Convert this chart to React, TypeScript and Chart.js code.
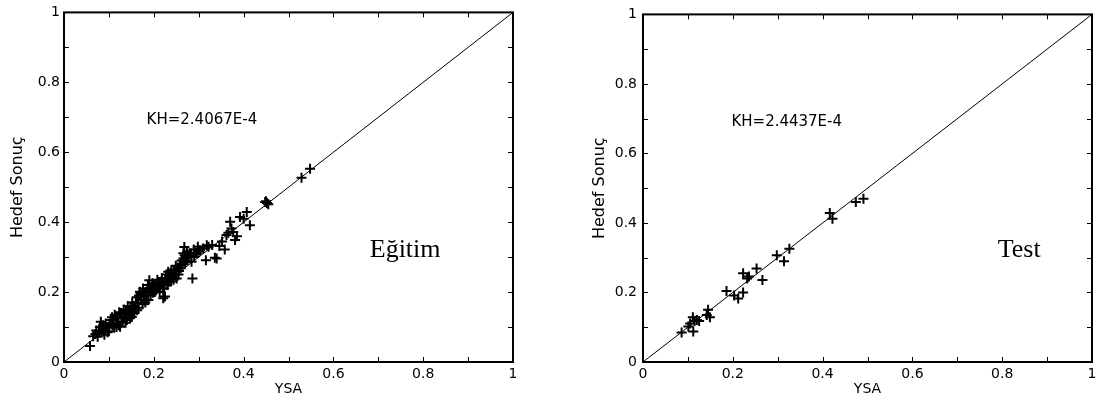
import { useEffect, useRef } from "react";
import { Chart, registerables } from "chart.js";

Chart.register(...registerables);

// Training set: network output (YSA) vs. target (Hedef Sonuç)
const egitimYSA = [
  0.058, 0.065, 0.07, 0.075, 0.078, 0.082, 0.085, 0.088, 0.09, 0.092, 0.095, 0.099, 0.1, 0.102,
  0.105, 0.108, 0.11, 0.112, 0.115, 0.118, 0.12, 0.122, 0.125, 0.127, 0.128, 0.13, 0.132, 0.135,
  0.138, 0.14, 0.143, 0.145, 0.148, 0.151, 0.153,
  0.155, 0.158, 0.16, 0.163, 0.165, 0.167, 0.169, 0.172, 0.175, 0.177, 0.18, 0.183, 0.184, 0.186,
  0.188, 0.19, 0.192, 0.195, 0.198, 0.2,
  0.203, 0.205, 0.207, 0.21, 0.212, 0.214, 0.217, 0.22, 0.221, 0.224, 0.225, 0.227, 0.229, 0.23,
  0.232, 0.234, 0.236, 0.238, 0.24, 0.242, 0.245, 0.247, 0.25, 0.251, 0.253,
  0.256, 0.258, 0.26, 0.263, 0.266, 0.266, 0.268, 0.27, 0.272, 0.275, 0.278, 0.28, 0.284, 0.286,
  0.29, 0.294, 0.296, 0.3, 0.303,
  0.31, 0.316, 0.318, 0.322, 0.33, 0.336, 0.34, 0.346, 0.352, 0.358, 0.362, 0.366, 0.37, 0.373,
  0.377, 0.381, 0.385, 0.392, 0.4, 0.407, 0.414,
  0.448, 0.45, 0.452, 0.455, 0.529, 0.548,
  0.072, 0.08, 0.087, 0.093, 0.097, 0.107, 0.113, 0.117, 0.123, 0.133, 0.137, 0.142, 0.147, 0.152,
  0.157, 0.162, 0.166, 0.171, 0.176, 0.181, 0.187, 0.193, 0.197, 0.202, 0.208, 0.213, 0.218, 0.223,
  0.228, 0.233, 0.239, 0.244, 0.249, 0.255, 0.262, 0.269, 0.274, 0.283, 0.289, 0.298,
];
const egitimHedef = [
  0.046, 0.074, 0.08, 0.072, 0.085, 0.115, 0.09, 0.087, 0.078, 0.095, 0.1, 0.101, 0.088, 0.11,
  0.12, 0.105, 0.12, 0.098, 0.13, 0.112, 0.125, 0.105, 0.101, 0.14, 0.125, 0.115, 0.139, 0.128,
  0.145, 0.12, 0.149, 0.135, 0.155, 0.129, 0.145,
  0.16, 0.153, 0.17, 0.148, 0.168, 0.19, 0.201, 0.178, 0.165, 0.187, 0.195, 0.2, 0.177, 0.21,
  0.177, 0.234, 0.205, 0.215, 0.198, 0.22,
  0.22, 0.205, 0.211, 0.225, 0.215, 0.211, 0.23, 0.21, 0.182, 0.228, 0.187, 0.24, 0.234, 0.22,
  0.258, 0.245, 0.253, 0.23, 0.253, 0.24, 0.26, 0.25, 0.263, 0.239, 0.27,
  0.26, 0.275, 0.268, 0.28, 0.296, 0.311, 0.329, 0.285, 0.3, 0.29, 0.305, 0.31, 0.287, 0.239,
  0.3, 0.312, 0.311, 0.318, 0.32,
  0.325, 0.291, 0.334, 0.33, 0.335, 0.298, 0.296, 0.332, 0.345, 0.322, 0.363, 0.37, 0.401, 0.382,
  0.372, 0.349, 0.36, 0.415, 0.41, 0.429, 0.391,
  0.458, 0.46, 0.455, 0.451, 0.527, 0.553,
  0.09, 0.1, 0.105, 0.11, 0.085, 0.128, 0.135, 0.1, 0.142, 0.15, 0.112, 0.16, 0.125, 0.17,
  0.14, 0.185, 0.155, 0.195, 0.21, 0.17, 0.22, 0.19, 0.225, 0.2, 0.235, 0.2, 0.24, 0.21,
  0.25, 0.228, 0.262, 0.235, 0.275, 0.25, 0.29, 0.305, 0.315, 0.31, 0.322, 0.33,
];

// Test set
const testYSA = [
  0.086, 0.101, 0.105, 0.111, 0.112, 0.115, 0.12, 0.125, 0.142, 0.145, 0.149, 0.186, 0.203, 0.212,
  0.223, 0.223, 0.232, 0.236, 0.253, 0.266, 0.298, 0.314, 0.326, 0.416, 0.422, 0.474, 0.491,
];
const testHedef = [
  0.085, 0.102, 0.111, 0.129, 0.088, 0.118, 0.121, 0.118, 0.135, 0.15, 0.129, 0.204, 0.191, 0.183,
  0.2, 0.255, 0.24, 0.246, 0.269, 0.236, 0.307, 0.29, 0.326, 0.429, 0.412, 0.46, 0.47,
];

// Axis ticks: labelled every 0.2, tick marks every 0.1
const labelledTicks = [0, 0.2, 0.4, 0.6, 0.8, 1];
const minorTicks = [0.1, 0.3, 0.5, 0.7, 0.9];

const FONT = "'DejaVu Sans', 'Liberation Sans', sans-serif";

type Note = { kh: string; khAt: [number, number]; title: string; titleAt: [number, number] };

// Box frame, inward tick marks on all four sides and the text notes
const framePlugin = {
  id: "frame",
  afterDatasetsDraw(chart: any, _args: any, opts: Note) {
    const { ctx, chartArea: a, scales } = chart;
    const xs = scales.x;
    const ys = scales.y;
    const len = 5;
    ctx.save();
    ctx.strokeStyle = "#000";
    ctx.lineWidth = 1;
    ctx.beginPath();
    for (const t of xs.ticks) {
      const px = Math.round(xs.getPixelForValue(t.value)) + 0.5;
      ctx.moveTo(px, a.bottom);
      ctx.lineTo(px, a.bottom - len);
      ctx.moveTo(px, a.top);
      ctx.lineTo(px, a.top + len);
    }
    for (const t of ys.ticks) {
      const py = Math.round(ys.getPixelForValue(t.value)) + 0.5;
      ctx.moveTo(a.left, py);
      ctx.lineTo(a.left + len, py);
      ctx.moveTo(a.right, py);
      ctx.lineTo(a.right - len, py);
    }
    ctx.stroke();
    ctx.lineWidth = 2;
    ctx.strokeRect(a.left, a.top, a.right - a.left, a.bottom - a.top);

    ctx.fillStyle = "#000";
    ctx.textAlign = "left";
    ctx.textBaseline = "alphabetic";
    ctx.font = `15px ${FONT}`;
    ctx.fillText(opts.kh, xs.getPixelForValue(opts.khAt[0]), ys.getPixelForValue(opts.khAt[1]));
    ctx.font = "26px 'Liberation Serif', 'Times New Roman', serif";
    ctx.fillText(opts.title, xs.getPixelForValue(opts.titleAt[0]), ys.getPixelForValue(opts.titleAt[1]));
    ctx.restore();
  },
};

function formatTick(v: number) {
  const r = Math.round(v * 10);
  if (r % 2 !== 0) return "";
  if (r === 0) return "0";
  if (r === 10) return "1";
  return (r / 10).toFixed(1);
}

function buildTicks(scale: any) {
  scale.ticks = [...labelledTicks, ...minorTicks].sort((p, q) => p - q).map((value) => ({ value }));
}

function makeConfig(
  xsData: number[],
  ysData: number[],
  note: Note,
  axisWidth: number,
  padRight: number,
  yTitlePad: number
): any {
  return {
    type: "scatter",
    data: {
      datasets: [
        {
          type: "line",
          data: [
            { x: 0, y: 0 },
            { x: 1, y: 1 },
          ],
          borderColor: "#000",
          borderWidth: 1,
          pointRadius: 0,
          fill: false,
        },
        {
          data: xsData.map((x, i) => ({ x, y: ysData[i] })),
          pointStyle: "cross",
          pointRadius: 5,
          borderColor: "#000",
          backgroundColor: "#000",
          borderWidth: 2,
        },
      ],
    },
    options: {
      animation: false,
      responsive: false,
      events: [],
      layout: { padding: { top: 12, right: padRight, bottom: 0, left: 0 } },
      plugins: {
        legend: { display: false },
        tooltip: { enabled: false },
        frame: note,
      },
      scales: {
        x: {
          type: "linear",
          min: 0,
          max: 1,
          afterBuildTicks: buildTicks,
          afterFit: (s: any) => {
            s.height = 43;
          },
          grid: { display: false, drawTicks: false },
          border: { display: false },
          ticks: {
            padding: 4,
            color: "#000",
            autoSkip: false,
            maxRotation: 0,
            font: { family: FONT, size: 14 },
            callback: (v: number) => formatTick(v),
          },
          title: {
            display: true,
            text: "YSA",
            color: "#000",
            font: { family: FONT, size: 14 },
            padding: { top: 0, bottom: 7 },
          },
        },
        y: {
          type: "linear",
          min: 0,
          max: 1,
          afterBuildTicks: buildTicks,
          afterFit: (s: any) => {
            s.width = axisWidth;
          },
          grid: { display: false, drawTicks: false },
          border: { display: false },
          ticks: {
            padding: axisWidth > 70 ? 6 : 4,
            color: "#000",
            autoSkip: false,
            font: { family: FONT, size: 14 },
            callback: (v: number) => formatTick(v),
          },
          title: {
            display: true,
            text: "Hedef Sonuç",
            color: "#000",
            font: { family: FONT, size: 16 },
            padding: { top: yTitlePad, bottom: 0 },
          },
        },
      },
    },
    plugins: [framePlugin],
  };
}

export default function App() {
  const leftRef = useRef<HTMLCanvasElement>(null);
  const rightRef = useRef<HTMLCanvasElement>(null);

  useEffect(() => {
    const left = new Chart(
      leftRef.current as HTMLCanvasElement,
      makeConfig(
        egitimYSA,
        egitimHedef,
        { kh: "KH=2.4067E-4", khAt: [0.184, 0.68], title: "Eğitim", titleAt: [0.681, 0.301] },
        64,
        39,
        8.4
      )
    );
    const right = new Chart(
      rightRef.current as HTMLCanvasElement,
      makeConfig(
        testYSA,
        testHedef,
        { kh: "KH=2.4437E-4", khAt: [0.197, 0.68], title: "Test", titleAt: [0.79, 0.301] },
        91,
        13,
        38.4
      )
    );
    return () => {
      left.destroy();
      right.destroy();
    };
  }, []);

  return (
    <div style={{ position: "absolute", left: 0, top: 0, width: 1105, height: 405, background: "#fff" }}>
      <canvas
        ref={leftRef}
        width={552}
        height={405}
        style={{ position: "absolute", left: 0, top: 0, width: 552, height: 405 }}
      />
      <canvas
        ref={rightRef}
        width={553}
        height={405}
        style={{ position: "absolute", left: 552, top: 0, width: 553, height: 405 }}
      />
    </div>
  );
}
